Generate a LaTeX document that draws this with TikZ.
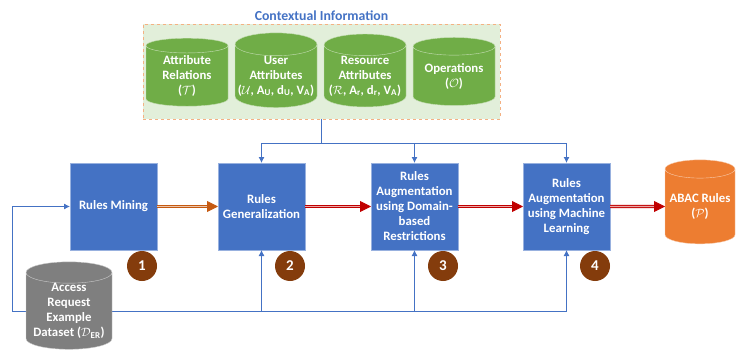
\documentclass[tikz,border=0pt]{standalone}
\usepackage{fontspec}
\setmainfont{Carlito}
\usepackage{xcolor}
\usetikzlibrary{shapes.geometric, positioning, arrows.meta}

\definecolor{azul}{HTML}{4472C4}
\definecolor{verde}{HTML}{70AD47}
\definecolor{verdeclaro}{HTML}{E2EFDA}
\definecolor{salmon}{HTML}{F4B183}
\definecolor{naranja}{HTML}{ED7D31}
\definecolor{gris}{HTML}{7F7F7F}
\definecolor{marron}{HTML}{843C0C}
\definecolor{cobre}{HTML}{C55A11}
\definecolor{rojo}{HTML}{C00000}

\begin{document}
\begin{tikzpicture}[x=1pt, y=-1pt, node distance=7pt,
  font=\fontsize{12.8}{15}\selectfont\bfseries,
  caja/.style={rectangle, fill=azul, draw=azul!55!white, text=white, minimum size=87pt, align=center, inner sep=0pt, outer sep=0pt},
  cil/.style={cylinder, shape border rotate=90, aspect=0.3, draw=white!60!#1, fill=#1, text=white, align=center, inner sep=0pt, outer sep=0pt},
  num/.style={circle, fill=marron, text=white, minimum size=30pt, inner sep=0pt, font=\fontsize{15}{15}\selectfont\bfseries},
  enlace/.style={draw=azul, line width=0.9pt, -{Latex[length=6pt,width=6pt]}},
  flecha/.style={draw=#1, double=#1!35!white, double distance=1.4pt, line width=0.9pt, -{Triangle[length=11pt,width=11pt]}}]
\useasboundingbox (0,0) rectangle (741,350);

% Informacion contextual
\node[rectangle, fill=verdeclaro, draw=salmon, dashed, minimum width=357pt, minimum height=95pt, inner sep=0pt, outer sep=0pt] (ctx) at (321.5,71.5) {};
\node[text=azul, font=\fontsize{13.8}{15}\selectfont\bfseries, above=0pt of ctx] (titulo) {Contextual Information};
\node[cil=verde, minimum width=82pt, minimum height=68pt] (rel) at (187,76) {Attribute\\Relations\\($\mathcal{T}$)};
\node[cil=verde, minimum width=82pt, minimum height=68pt, right=of rel] (usr) {User\\Attributes\\($\mathcal{U}$, A\textsubscript{U}, d\textsubscript{U}, V\textsubscript{A})};
\node[cil=verde, minimum width=82pt, minimum height=68pt, right=of usr] (rec) {Resource\\Attributes\\($\mathcal{R}$, A\textsubscript{r}, d\textsubscript{r}, V\textsubscript{A})};
\node[cil=verde, minimum width=82pt, minimum height=68pt, right=of rec] (ops) {Operations\\($\mathcal{O}$)};

% Etapas
\node[caja] (mining) at (113.5,206.5) {Rules Mining};
\node[caja, right=61pt of mining] (gen) {Rules\\Generalization};
\node[caja, right=66pt of gen] (dom) {Rules\\Augmentation\\using Domain-\\based\\Restrictions};
\node[caja, right=65pt of dom] (ml) {Rules\\Augmentation\\using Machine\\Learning};
\node[cil=naranja, minimum width=70pt, minimum height=84pt, right=55pt of ml] (abac) {ABAC Rules\\($\mathcal{P}$)};

\node[num] (n1) at ([xshift=-15pt, yshift=-16pt]mining.south east) {1};
\node[num] (n2) at ([xshift=-15pt, yshift=-16pt]gen.south east) {2};
\node[num] (n3) at ([xshift=-15pt, yshift=-16pt]dom.south east) {3};
\node[num] (n4) at ([xshift=-15pt, yshift=-16pt]ml.south east) {4};

% Conexiones
\draw[enlace] (ctx.south) -- ++(0,24) coordinate (rama) -| (gen.north);
\draw[enlace] (rama) -| (dom.north);
\draw[enlace] (rama) -| (ml.north);

\draw[enlace] (69,311) -- (12,311) |- (mining.west);
\draw[enlace] (69,311) -| (gen.south);
\draw[enlace] (69,311) -| (dom.south);
\draw[enlace] (69,311) -| (ml.south);

\node[cil=gris, minimum width=86pt, minimum height=86pt] (datos) at (69,311) {Access\\Request\\Example\\Dataset ($\mathcal{D}$\textsubscript{ER})};

\draw[flecha=cobre] (mining) -- (gen);
\draw[flecha=rojo] (gen) -- (dom);
\draw[flecha=rojo] (dom) -- (ml);
\draw[flecha=rojo] (ml) -- (abac);
\end{tikzpicture}
\end{document}
